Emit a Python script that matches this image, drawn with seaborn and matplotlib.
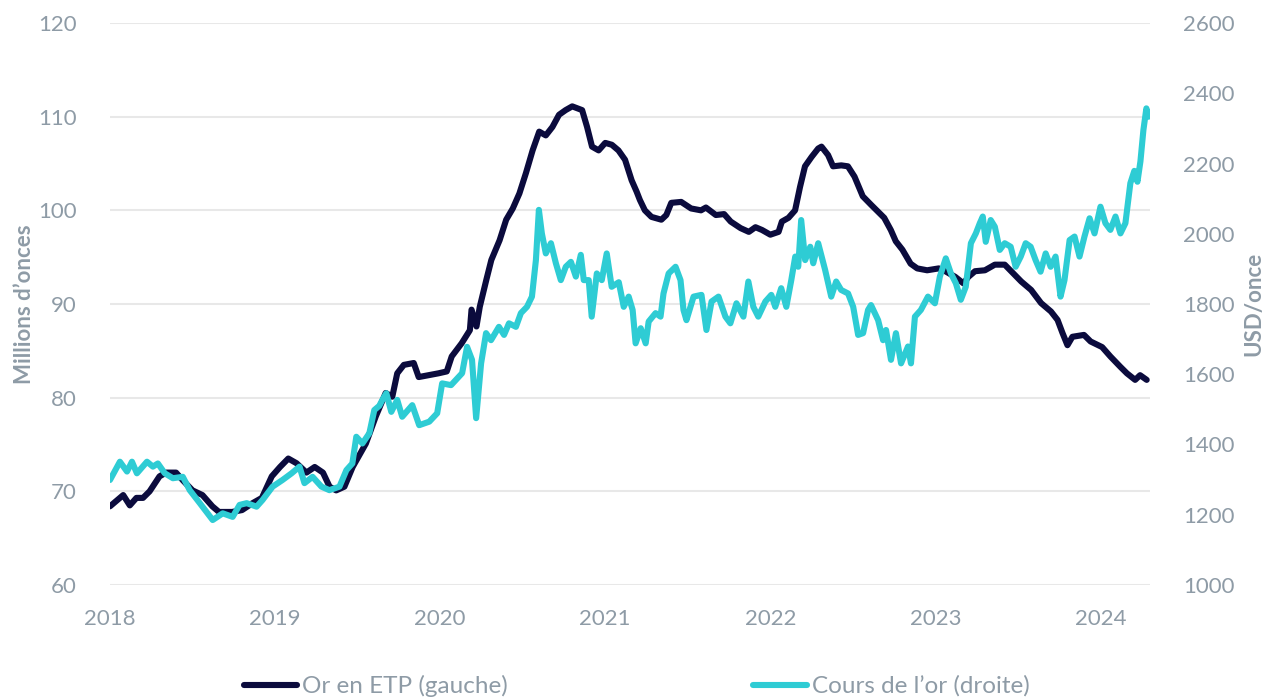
import matplotlib
matplotlib.use("Agg")
import matplotlib.pyplot as plt
import seaborn as sns
import pandas as pd
from matplotlib.lines import Line2D

# ---- Data (decimal years) ----
etf_t = [0.00, 0.08, 0.12, 0.16, 0.20, 0.24, 0.30, 0.34, 0.40, 0.44, 0.50, 0.56, 0.62, 0.66, 0.74,
         0.80, 0.86, 0.92, 0.98, 1.03, 1.08, 1.13, 1.19, 1.24, 1.29, 1.33, 1.37, 1.42, 1.47, 1.55,
         1.61, 1.67, 1.71, 1.74, 1.78, 1.84, 1.87, 1.93, 1.99, 2.04, 2.07, 2.13, 2.18, 2.19, 2.22,
         2.24, 2.28, 2.31, 2.36, 2.40, 2.44, 2.48, 2.52, 2.56, 2.60, 2.64, 2.68, 2.72, 2.76, 2.80,
         2.86, 2.89, 2.92, 2.96, 3.00, 3.04, 3.08, 3.12, 3.16, 3.19, 3.21, 3.24, 3.28, 3.34, 3.37,
         3.40, 3.46, 3.52, 3.58, 3.61, 3.67, 3.72, 3.76, 3.82, 3.87, 3.91, 3.95, 4.00, 4.05, 4.07,
         4.11, 4.15, 4.18, 4.21, 4.25, 4.29, 4.31, 4.35, 4.38, 4.43, 4.47, 4.51, 4.56, 4.61, 4.65,
         4.69, 4.73, 4.76, 4.80, 4.85, 4.89, 4.95, 5.02, 5.06, 5.12, 5.17, 5.20, 5.24, 5.30, 5.36,
         5.42, 5.47, 5.52, 5.58, 5.64, 5.70, 5.74, 5.77, 5.80, 5.83, 5.90, 5.94, 6.01, 6.06, 6.12,
         6.16, 6.21, 6.24, 6.28]
etf_val = [68.4, 69.6, 68.5, 69.3, 69.3, 70.0, 71.6, 72.0, 72.0, 71.2, 70.1, 69.6, 68.4, 67.8, 67.8,
           68.0, 68.7, 69.3, 71.6, 72.6, 73.5, 73.0, 72.0, 72.6, 72.0, 70.5, 70.1, 70.5, 72.6, 75.1,
           78.0, 80.5, 80.1, 82.6, 83.5, 83.7, 82.2, 82.4, 82.6, 82.8, 84.4, 85.8, 87.2, 89.4, 87.6,
           89.7, 92.6, 94.7, 96.8, 99.0, 100.2, 101.8, 104.0, 106.4, 108.4, 108.0, 108.9, 110.2, 110.7, 111.1,
           110.7, 108.9, 106.8, 106.4, 107.2, 107.0, 106.4, 105.4, 103.2, 102.0, 101.1, 100.0, 99.3, 99.0, 99.5,
           100.8, 100.9, 100.2, 100.0, 100.3, 99.5, 99.6, 98.8, 98.1, 97.7, 98.2, 97.9, 97.4, 97.7, 98.8,
           99.2, 100.0, 102.5, 104.7, 105.7, 106.6, 106.8, 105.9, 104.7, 104.8, 104.7, 103.6, 101.5, 100.6, 99.9,
           99.2, 97.9, 96.7, 95.8, 94.3, 93.8, 93.6, 93.8, 93.5, 92.9, 92.2, 92.9, 93.5, 93.6, 94.2,
           94.2, 93.3, 92.4, 91.5, 90.1, 89.2, 88.3, 86.9, 85.6, 86.5, 86.7, 86.0, 85.4, 84.4, 83.3,
           82.6, 81.9, 82.4, 81.9]

gold_t = [0.000, 0.060, 0.103, 0.133, 0.163, 0.224, 0.260, 0.290, 0.332, 0.381, 0.441, 0.483, 0.544,
          0.622, 0.683, 0.743, 0.785, 0.828, 0.888, 0.924, 0.985, 1.045, 1.100, 1.148, 1.178, 1.227,
          1.281, 1.329, 1.390, 1.432, 1.468, 1.492, 1.529, 1.571, 1.601, 1.631, 1.650, 1.674, 1.704,
          1.740, 1.770, 1.831, 1.873, 1.934, 1.982, 2.012, 2.066, 2.103, 2.133, 2.163, 2.193, 2.218,
          2.248, 2.278, 2.308, 2.356, 2.387, 2.417, 2.459, 2.489, 2.526, 2.556, 2.580, 2.598, 2.616,
          2.640, 2.671, 2.701, 2.731, 2.761, 2.792, 2.822, 2.852, 2.870, 2.900, 2.918, 2.949, 2.979,
          3.009, 3.039, 3.082, 3.112, 3.142, 3.166, 3.184, 3.215, 3.245, 3.263, 3.305, 3.335, 3.353,
          3.384, 3.426, 3.456, 3.474, 3.492, 3.535, 3.583, 3.613, 3.644, 3.686, 3.728, 3.758, 3.795,
          3.837, 3.867, 3.897, 3.927, 3.970, 4.006, 4.030, 4.066, 4.097, 4.127, 4.151, 4.169, 4.187,
          4.211, 4.242, 4.260, 4.290, 4.332, 4.369, 4.399, 4.429, 4.471, 4.502, 4.532, 4.562, 4.592,
          4.610, 4.653, 4.683, 4.701, 4.731, 4.761, 4.792, 4.834, 4.852, 4.876, 4.912, 4.955, 4.997,
          5.027, 5.063, 5.094, 5.124, 5.154, 5.184, 5.215, 5.245, 5.269, 5.287, 5.305, 5.335, 5.360,
          5.390, 5.420, 5.456, 5.486, 5.517, 5.547, 5.577, 5.607, 5.637, 5.668, 5.698, 5.728, 5.758,
          5.782, 5.813, 5.843, 5.873, 5.903, 5.934, 5.964, 6.000, 6.030, 6.060, 6.091, 6.121, 6.151,
          6.181, 6.205, 6.224, 6.242, 6.260, 6.278, 6.290]
gold_val = [1299, 1351, 1323, 1351, 1318, 1351, 1337, 1346, 1318, 1304, 1308, 1270, 1233,
            1185, 1204, 1194, 1228, 1233, 1223, 1242, 1280, 1299, 1318, 1337, 1290, 1308,
            1280, 1270, 1280, 1327, 1346, 1422, 1403, 1432, 1498, 1510, 1527, 1546, 1493,
            1527, 1479, 1512, 1455, 1465, 1489, 1574, 1569, 1588, 1603, 1678, 1641, 1475,
            1631, 1717, 1697, 1735, 1712, 1745, 1735, 1774, 1792, 1821, 1925, 2068, 2001,
            1944, 1973, 1916, 1868, 1906, 1920, 1878, 1940, 1868, 1868, 1764, 1887, 1868,
            1944, 1849, 1862, 1792, 1821, 1783, 1688, 1731, 1688, 1750, 1774, 1764, 1830,
            1887, 1906, 1868, 1783, 1754, 1821, 1826, 1726, 1807, 1821, 1764, 1745, 1802,
            1764, 1864, 1792, 1764, 1807, 1826, 1792, 1845, 1792, 1868, 1935, 1906, 2039,
            1925, 1963, 1916, 1973, 1897, 1821, 1864, 1840, 1830, 1792, 1712, 1717, 1783,
            1797, 1754, 1697, 1726, 1641, 1717, 1631, 1679, 1631, 1764, 1783, 1821, 1802,
            1878, 1930, 1887, 1859, 1812, 1849, 1973, 2001, 2030, 2049, 1977, 2039, 2020,
            1954, 1973, 1963, 1906, 1935, 1973, 1963, 1925, 1892, 1944, 1906, 1935, 1821,
            1868, 1982, 1992, 1935, 1992, 2044, 2001, 2077, 2030, 2011, 2049, 2001, 2030,
            2144, 2179, 2148, 2206, 2295, 2357, 2333]

base_year = 2018
year_ticks = [2018, 2019, 2020, 2021, 2022, 2023, 2024]
left_ticks = [60, 70, 80, 90, 100, 110, 120]
right_ticks = [1000, 1200, 1400, 1600, 1800, 2000, 2200, 2400, 2600]
label_etf = "Or en ETP (gauche)"
label_gold = "Cours de l\u2019or (droite)"
ylabel_left = "Millions d\u2019onces"
ylabel_right = "USD/once"

df_etf = pd.DataFrame({"year": [base_year + t for t in etf_t], "val": etf_val})
df_gold = pd.DataFrame({"year": [base_year + t for t in gold_t], "val": gold_val})

# ---- Style ----
sns.set_style("white")
plt.rcParams["font.family"] = ["Lato", "DejaVu Sans"]
GREY = "#8E9BA6"
NAVY = "#0B0B3D"
CYAN = "#2ECCD4"
GRID = "#E8E8E8"
FS = 16

fig = plt.figure(figsize=(12.73, 6.98), dpi=100)
ax = fig.add_axes([110 / 1273, 1 - 585 / 698, (1150 - 110) / 1273, (585 - 23) / 698])
ax2 = ax.twinx()

sns.lineplot(data=df_etf, x="year", y="val", ax=ax, color=NAVY, linewidth=4.4,
             solid_capstyle="round", solid_joinstyle="round", legend=False)
sns.lineplot(data=df_gold, x="year", y="val", ax=ax2, color=CYAN, linewidth=4.4,
             solid_capstyle="round", solid_joinstyle="round", legend=False)

ax.set_xlim(2018, 2024.3)
ax.set_ylim(60, 120)
ax2.set_ylim(1000, 2600)
ax.set_xticks(year_ticks)
ax.set_xticklabels([str(y) for y in year_ticks])
ax.set_yticks(left_ticks)
ax2.set_yticks(right_ticks)

ax.grid(axis="y", color=GRID, linewidth=1.5)
ax.set_axisbelow(True)
ax2.grid(False)

for a in (ax, ax2):
    for s in a.spines.values():
        s.set_visible(False)

ax.tick_params(axis="x", length=0, pad=17, labelsize=FS, labelcolor=GREY)
ax.tick_params(axis="y", length=0, pad=24, labelsize=FS, labelcolor=GREY)
ax2.tick_params(axis="y", length=0, pad=24, labelsize=FS, labelcolor=GREY)

ax.set_xlabel("")
ax.set_ylabel(ylabel_left, fontsize=FS, color=GREY, fontweight="bold", labelpad=2)
ax2.set_ylabel(ylabel_right, fontsize=FS, color=GREY, fontweight="bold", labelpad=6)

handles = [Line2D([0], [0], color=NAVY, linewidth=4.4, solid_capstyle="round"),
           Line2D([0], [0], color=CYAN, linewidth=4.4, solid_capstyle="round")]
leg = fig.legend(handles, [label_etf, label_gold], loc="center",
                 bbox_to_anchor=(0.5, 1 - 686 / 698), ncol=2, frameon=False,
                 fontsize=17.5, handlelength=2.2, handletextpad=0.2, columnspacing=10.1)
for t in leg.get_texts():
    t.set_color(GREY)

fig.savefig("out.png", dpi=100)
